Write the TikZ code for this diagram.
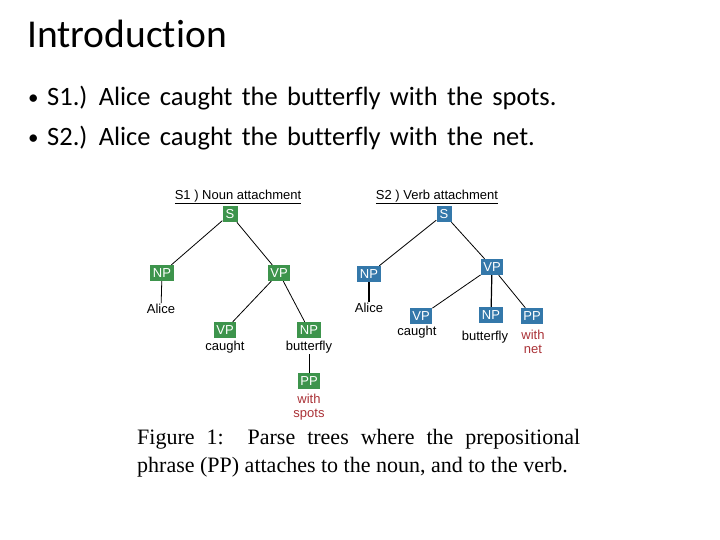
\documentclass[tikz,border=0pt]{standalone}
\usepackage{fontspec}
\setmainfont{Carlito}[Ligatures=NoCommon]
\newfontfamily\bulletfont{Carlito}[Ligatures=NoCommon,WordSpace=1.55]
\newfontfamily\treefont{Liberation Sans}
\newfontfamily\capfont{Liberation Serif}
\usepackage{tikz}
\usetikzlibrary{positioning}
\definecolor{cGreen}{RGB}{61,148,76}
\definecolor{cBlue} {RGB}{52,120,170}
\definecolor{cRed}  {RGB}{170,50,55}
\tikzset{
  cat/.style={text=white,inner xsep=2.5pt,inner ysep=0pt,minimum width=15pt,
              minimum height=16pt,font=\treefont\fontsize{13}{14}\selectfont},
  gcat/.style={cat,fill=cGreen},           % noun attachment tree
  bcat/.style={cat,fill=cBlue},            % verb attachment tree
  wrd/.style={inner sep=1pt,font=\treefont\fontsize{13}{14.5}\selectfont},
  pwrd/.style={wrd,text=cRed,align=center},% words of the PP
  ttl/.style={inner sep=1pt,font=\treefont\fontsize{13}{15}\selectfont},
  bul/.style={anchor=base west,inner sep=0pt,font=\bulletfont\fontsize{26.5}{30}\selectfont},
  dot/.style={anchor=base west,inner sep=0pt,font=\bulletfont\fontsize{21}{24}\selectfont},
  capl/.style={anchor=base west,inner sep=0pt,font=\capfont\fontsize{22}{28}\selectfont},
  br/.style={-,black,line width=0.8pt},
  brb/.style={-,black,line width=1.2pt},
}

\begin{document}
\begin{tikzpicture}[x=1pt,y=-1pt]
  \useasboundingbox (0,0) rectangle (720,540);

  % slide heading and bullets
  \node[anchor=base west,inner sep=0pt,font=\fontsize{39.5}{47}\selectfont] (head) at (27,48) {Introduction};
  \node[dot] (b1) at (28,105) {\textbullet};
  \node[bul] (t1) at (47,106) {S1.) Alice caught the butterfly with the spots.};
  \node[dot] (b2) at (28,145) {\textbullet};
  \node[bul] (t2) at (47,146) {S2.) Alice caught the butterfly with the net.};

  % S1: noun attachment
  \node[ttl]  (s1ttl) at (238,197) {\underline{S1 ) Noun attachment}};
  \node[gcat] (s1S)   at (230,214) {S};
  \node[gcat] (s1NP)  at (162,273) {NP};
  \node[gcat] (s1VP)  at (279,273) {VP};
  \node[wrd]  (s1alice) at (161,309) {Alice};
  \node[gcat] (s1VPc) at (225,330) {VP};
  \node[wrd]  (s1caught) at (225,347) {caught};
  \node[gcat] (s1NPb) at (309,330) {NP};
  \node[wrd]  (s1bfly) at (309,347) {butterfly};
  \node[gcat] (s1PP)  at (309,381) {PP};
  \node[pwrd] (s1with) at (309,407) {with\\spots};
  \draw[br] (s1S) -- (s1NP);
  \draw[br] (s1S) -- (s1VP);
  \draw[br] (s1NP) -- (s1alice);
  \draw[br] (s1VP) -- (s1VPc);
  \draw[br] (s1VP) -- (s1NPb);
  \draw[br] (s1bfly) -- (s1PP);

  % S2: verb attachment
  \node[ttl]  (s2ttl) at (437,197) {\underline{S2 ) Verb attachment}};
  \node[bcat] (s2S)   at (444,214) {S};
  \node[bcat] (s2NP)  at (369,274) {NP};
  \node[wrd]  (s2alice) at (369,308) {Alice};
  \node[bcat] (s2VP)  at (492,267) {VP};
  \node[bcat] (s2VPc) at (421,316) {VP};
  \node[wrd]  (s2caught) at (417,332) {caught};
  \node[bcat] (s2NPb) at (491,315) {NP};
  \node[wrd]  (s2bfly) at (485,337) {butterfly};
  \node[bcat] (s2PP)  at (532,316) {PP};
  \node[pwrd] (s2with) at (533,342) {with\\net};
  \draw[br]  (s2S) -- (s2NP);
  \draw[br]  (s2S) -- (s2VP);
  \draw[brb] (s2NP) -- (s2alice);
  \draw[br]  (s2VP) -- (s2VPc);
  \draw[brb] (s2VP) -- (s2NPb);
  \draw[br]  (s2VP) -- (s2PP);

  % caption
  \node[capl] (cap1) at (137,444)
    {\makebox[443pt][s]{Figure 1:\ \ Parse trees where the prepositional}};
  \node[capl] (cap2) at (137,472)
    {phrase (PP) attaches to the noun, and to the verb.};
\end{tikzpicture}
\end{document}
